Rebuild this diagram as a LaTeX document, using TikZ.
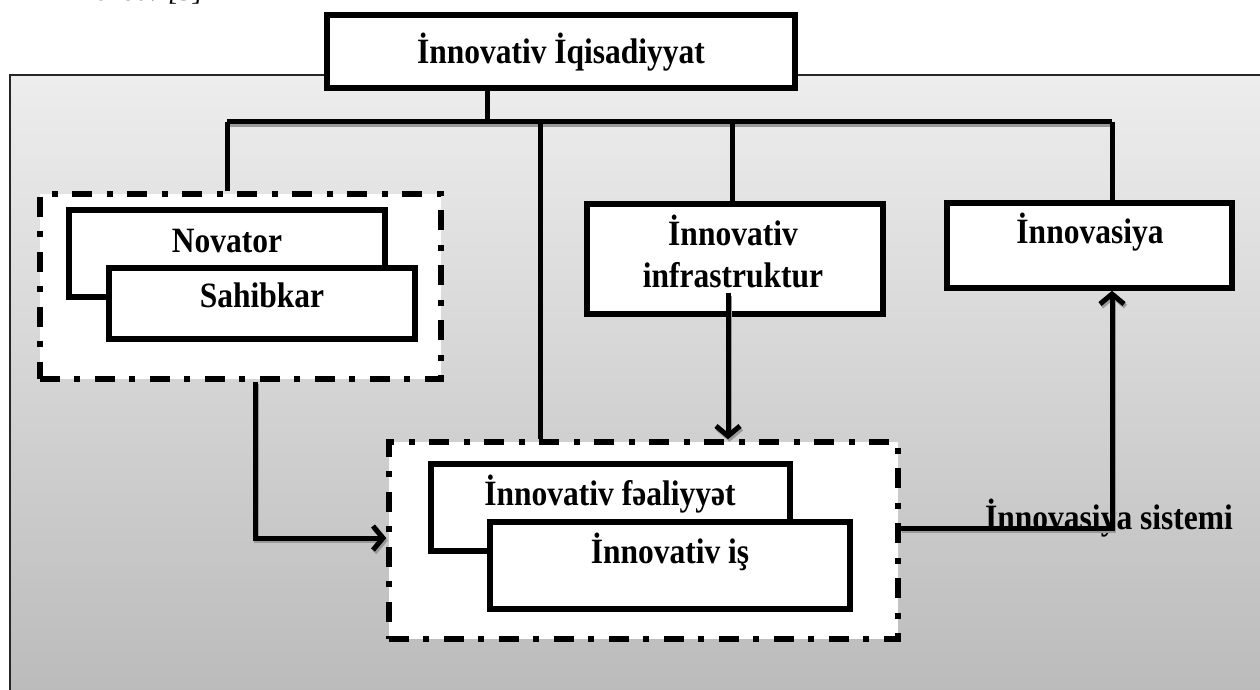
\documentclass[tikz,border=0pt]{standalone}
\usepackage{fontspec}
\setmainfont{Liberation Serif}
\usetikzlibrary{arrows.meta,calc}
\newcommand{\vstretch}[1]{\scalebox{1}[1.13]{#1}}
\begin{document}
\begin{tikzpicture}[x=1pt,y=-1pt,
  box/.style={draw=black, fill=white, line width=5.5pt, rectangle, inner sep=0pt},
  dashbox/.style={draw=black, fill=white, line width=5.5pt, rectangle, inner sep=0pt, dash pattern=on 20pt off 14pt on 6pt off 15pt},
  lbl/.style={font=\fontsize{31.5}{37}\selectfont\bfseries, inner sep=0pt, anchor=base},
  conn/.style={line width=5pt, draw=black},
  arr/.style={conn, -{Straight Barb[length=10pt,width=24pt]}},
  shadowline/.style={draw=black!40, line width=5pt, transform canvas={shift={(1.5pt,-2.5pt)}}},
  shadowarr/.style={shadowline, -{Straight Barb[length=10pt,width=24pt]}},
]
\useasboundingbox (0,0) rectangle (1260,690);
\clip (0,0) rectangle (1260,690);

% source note (cut off at top, as in the original)
\node[font=\fontsize{28}{34}\selectfont\itshape, anchor=base west, inner sep=0pt] (src) at (73,1) {Mənbə: [5]};

% panel
\shade[top color=black!7, bottom color=black!27] (10,75) rectangle (1275,705);
\draw[black!85, line width=1.2pt] (1275,75) -- (10,75) -- (10,705);

% top box
\node[box, minimum width=468pt, minimum height=73pt] (top) at (561,51.5) {};
\node[lbl] (toptxt) at (561,64) {\vstretch{İnnovativ İqisadiyyat}};

% coordinates of the bus
\coordinate (bj) at (487,122);
\coordinate (bl) at (227,122);
\coordinate (bm) at (540,122);
\coordinate (bi) at (732,122);
\coordinate (br) at (1112,122);

% dashed groups
\node[dashbox, minimum width=401pt, minimum height=185pt] (ldash) at (240.5,286.5) {};
\node[dashbox, minimum width=509pt, minimum height=197pt] (bdash) at (643.5,540.5) {};

% bus lines
\draw[shadowline] (bl) -- (br);
\draw[conn] (top.south -| bj) -- (bj);
\draw[conn] (bl) -- (br);
\draw[conn] (bl) -- (ldash.north -| bl);
\draw[conn] (bm) -- (bdash.north -| bm);

% right boxes
\node[box, minimum width=296pt, minimum height=110pt] (infra) at (735,259) {};
\node[lbl] (infa) at (733,245) {\vstretch{İnnovativ}};
\node[lbl] (infb) at (733,287) {\vstretch{infrastruktur}};
\node[box, minimum width=285pt, minimum height=85pt] (innov) at (1089.5,245.5) {};
\node[lbl] (innovtxt) at (1090,243) {\vstretch{İnnovasiya}};
\draw[conn] (bi) -- (infra.north -| bi);
\draw[conn] (br) -- (innov.north -| br);

% left group
\node[box, minimum width=316pt, minimum height=87pt] (nov) at (227,253.5) {};
\node[lbl] (novtxt) at (227,252) {\vstretch{Novator}};
\node[box, minimum width=306pt, minimum height=71pt] (sah) at (262,303.5) {};
\node[lbl] (sahtxt) at (262,307) {\vstretch{Sahibkar}};

% bottom group
\node[box, minimum width=359pt, minimum height=87pt] (fea) at (610.5,507.5) {};
\node[lbl] (featxt) at (610,505) {\vstretch{İnnovativ fəaliyyət}};
\node[box, minimum width=360pt, minimum height=87pt] (is) at (670,565.5) {};
\node[lbl] (istxt) at (670,563) {\vstretch{İnnovativ iş}};

% arrows
\coordinate (la) at (255,538);
\coordinate (ia) at (728,293);
\coordinate (rc) at (1112,528);

\draw[shadowarr] (ldash.south -| la) -- (la) -- (bdash.west |- la);
\draw[arr] (ldash.south -| la) -- (la) -- (bdash.west |- la);

\draw[shadowarr] (ia) -- (bdash.north -| ia);
\draw[arr] (ia) -- (bdash.north -| ia);

\node[lbl, anchor=base west] (sys) at (985,529) {\vstretch{İnnovasiya sistemi}};
\draw[shadowarr] (bdash.east |- rc) -- (rc) -- (innov.south -| rc);
\draw[arr] (bdash.east |- rc) -- (rc) -- (innov.south -| rc);
\end{tikzpicture}
\end{document}
